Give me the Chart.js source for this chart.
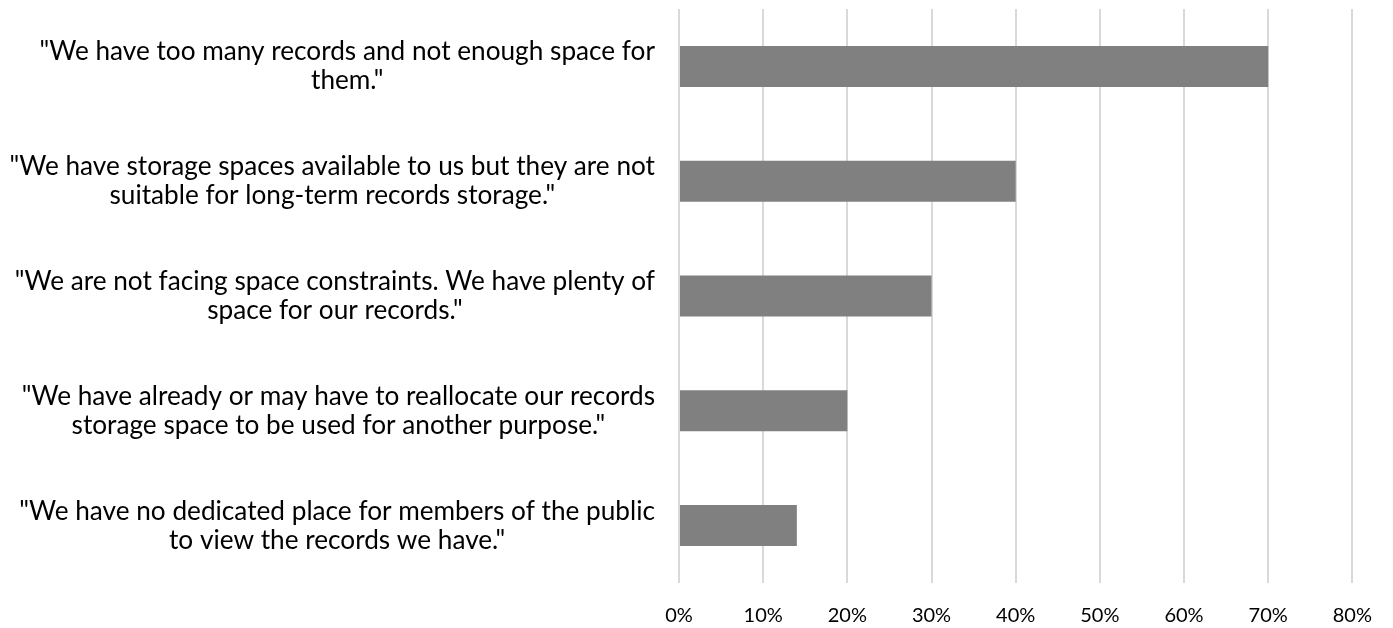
<!DOCTYPE html>
<html>
<head>
<meta charset="utf-8">
<script src="https://cdn.jsdelivr.net/npm/chart.js@4"></script>
<style>
  html, body { margin: 0; padding: 0; background: #ffffff; }
  #wrap { width: 1393px; height: 628px; }
</style>
</head>
<body>
<div id="wrap"><canvas id="chart" width="1393" height="628"></canvas></div>
<script>
// Survey statements (each entry is one wrapped label, one line per string)
const categories = [
  ['"We have too many records and not enough space for', 'them."'],
  ['"We have storage spaces available to us but they are not', 'suitable for long-term records storage."'],
  ['"We are not facing space constraints. We have plenty of', 'space for our records."'],
  ['"We have already or may have to reallocate our records', 'storage space to be used for another purpose."'],
  ['"We have no dedicated place for members of the public', 'to view the records we have."']
];
// Share of respondents, percent
const shares = [70, 40, 30, 20, 14];
// Value axis ticks, percent
const axisTicks = [0, 10, 20, 30, 40, 50, 60, 70, 80];

const LABEL_FONT = '26.2px Lato, "DejaVu Sans", sans-serif';
const LABEL_LINE = 29;
const LABEL_RIGHT = 655;

// Draws each category label as a block whose widest line ends at LABEL_RIGHT,
// with the shorter lines centred under it.
const wrappedLabels = {
  id: 'wrappedLabels',
  afterDraw(chart) {
    const ctx = chart.ctx;
    const yScale = chart.scales.y;
    ctx.save();
    ctx.font = LABEL_FONT;
    ctx.fillStyle = '#000000';
    ctx.textAlign = 'center';
    ctx.textBaseline = 'middle';
    categories.forEach((lines, i) => {
      const y = yScale.getPixelForTick(i);
      const widest = Math.max(...lines.map(l => ctx.measureText(l).width));
      const cx = LABEL_RIGHT - widest / 2;
      lines.forEach((line, k) => {
        ctx.fillText(line, cx, y + (k - (lines.length - 1) / 2) * LABEL_LINE);
      });
    });
    ctx.restore();
  }
};

new Chart(document.getElementById('chart'), {
  type: 'bar',
  data: {
    labels: categories,
    datasets: [{
      data: shares,
      backgroundColor: '#808080',
      borderWidth: 0,
      barPercentage: 0.357,
      categoryPercentage: 1.0
    }]
  },
  options: {
    indexAxis: 'y',
    responsive: false,
    devicePixelRatio: 1,
    animation: false,
    layout: { padding: { top: 9, right: 39, left: 0, bottom: 0 } },
    plugins: { legend: { display: false }, tooltip: { enabled: false } },
    scales: {
      x: {
        min: axisTicks[0],
        max: axisTicks[axisTicks.length - 1],
        afterBuildTicks(scale) { scale.ticks = axisTicks.map(v => ({ value: v })); },
        afterFit(scale) { scale.height = 45; },
        border: { display: false },
        grid: { color: '#d9d9d9', lineWidth: 2, drawTicks: false },
        ticks: {
          padding: 21,
          color: '#000000',
          font: { family: 'Lato, "DejaVu Sans", sans-serif', size: 20 },
          callback: v => v + '%'
        }
      },
      y: {
        afterFit(scale) { scale.width = 679; },
        border: { display: false },
        grid: { display: false },
        ticks: { display: false }
      }
    }
  },
  plugins: [wrappedLabels]
});
</script>
</body>
</html>
